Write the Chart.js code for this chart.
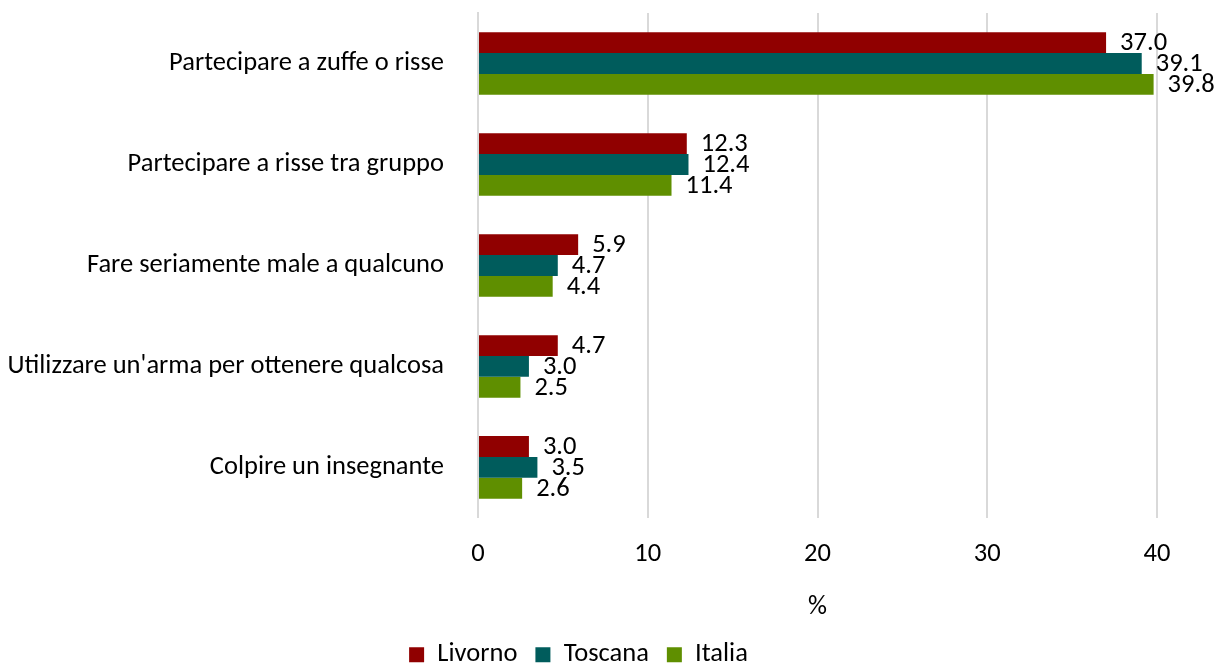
<!DOCTYPE html>
<html>
<head>
<meta charset="utf-8">
<script src="https://cdn.jsdelivr.net/npm/chart.js@4"></script>
<style>
  html,body{margin:0;padding:0;background:#fff;}
  #wrap{width:1223px;height:664px;position:relative;}
</style>
</head>
<body>
<div id="wrap"><canvas id="c"></canvas></div>
<script>
// Horizontal grouped bars: Livorno / Toscana / Italia
const CATEGORIES = ["Partecipare a zuffe o risse","Partecipare a risse tra gruppo","Fare seriamente male a qualcuno","Utilizzare un'arma per ottenere qualcosa","Colpire un insegnante"];
const LIVORNO = [37.0,12.3,5.9,4.7,3.0];
const TOSCANA = [39.1,12.4,4.7,3.0,3.5];
const ITALIA = [39.8,11.4,4.4,2.5,2.6];
const X_TICKS = [0,10,20,30,40];

const FONT = "Carlito, Lato, 'Open Sans', sans-serif";
const FS = 26.5;

// value labels just past the bar end
const valueLabels = {
  id:'valueLabels',
  afterDatasetsDraw(chart){
    const ctx = chart.ctx;
    ctx.save();
    ctx.font = FS + "px " + FONT;
    ctx.fillStyle = "#000";
    ctx.textBaseline = "middle";
    chart.data.datasets.forEach((ds,i)=>{
      chart.getDatasetMeta(i).data.forEach((bar,j)=>{
        ctx.fillText(ds.data[j].toFixed(1), bar.x + 14, bar.y + 1);
      });
    });
    ctx.restore();
  }
};

new Chart(document.getElementById("c"), {
  type:'bar',
  data:{
    labels: CATEGORIES,
    datasets:[
      { label:'Livorno', data:LIVORNO, backgroundColor:'#900000' },
      { label:'Toscana', data:TOSCANA, backgroundColor:'#005c5c' },
      { label:'Italia', data:ITALIA, backgroundColor:'#5f8f00' }
    ]
  },
  options:{
    indexAxis:'y',
    responsive:true,
    maintainAspectRatio:false,
    animation:false,
    layout:{ padding:{ top:13, right:66, left:0, bottom:-14 } },
    datasets:{ bar:{ categoryPercentage:0.62, barPercentage:1 } },
    plugins:{
      legend:{
        position:'bottom',
        labels:{ font:{ family:FONT, size:FS }, color:'#000', boxWidth:15, boxHeight:15, padding:18 }
      },
      tooltip:{ enabled:false }
    },
    scales:{
      x:{
        min:0, max:40,
        afterBuildTicks(axis){ axis.ticks = X_TICKS.map(v=>({value:v})); },
        grid:{ color:'#d9d9d9', lineWidth:2, drawTicks:false },
        border:{ display:false },
        ticks:{ font:{ family:FONT, size:FS }, color:'#000', padding:21 },
        title:{ display:true, text:'%', font:{ family:FONT, size:FS }, color:'#000', padding:{ top:0, bottom:0 } }
      },
      y:{
        grid:{ display:false },
        border:{ color:'#d9d9d9', width:2 },
        ticks:{ font:{ family:FONT, size:FS }, color:'#000', padding:26 },
        afterFit(axis){ axis.width = 478; axis.paddingTop = 0; axis.paddingBottom = 0; }
      }
    }
  },
  plugins:[valueLabels]
});
</script>
</body>
</html>
